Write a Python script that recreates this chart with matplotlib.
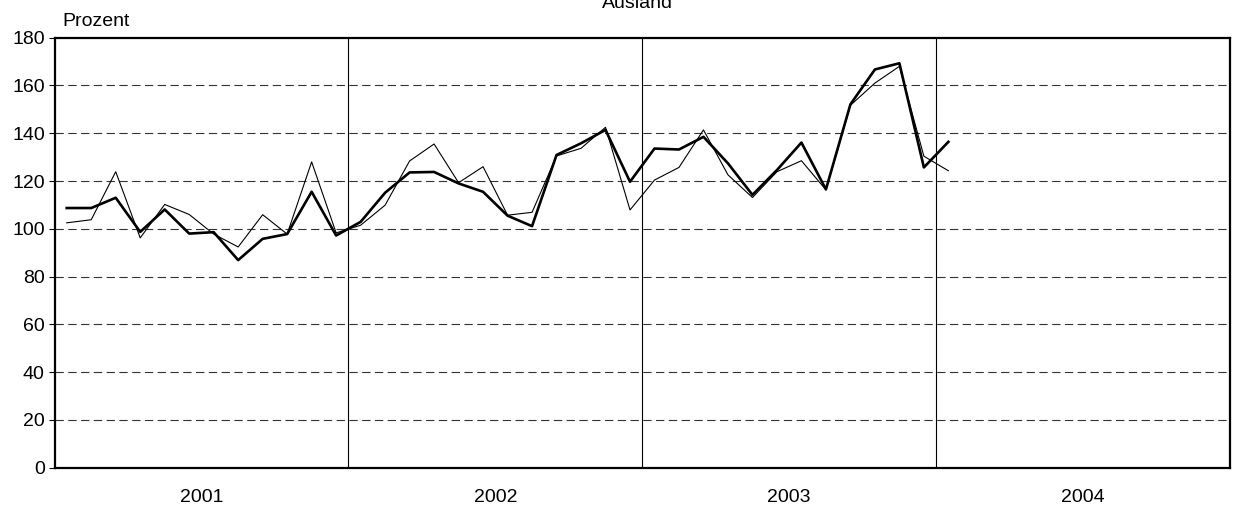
import numpy as np
import matplotlib
matplotlib.use("Agg")
import matplotlib.pyplot as plt

plt.rcParams["font.family"] = ["Liberation Sans", "DejaVu Sans"]

years = ["2001", "2002", "2003", "2004"]

# monthly values, Jan 2001 .. Jan 2004
thick = [108.7, 108.7, 113.0, 98.7, 108.1, 98.0, 98.6, 86.9, 95.8, 97.8, 115.5, 97.2,
         102.9, 115.1, 123.6, 123.8, 119.0, 115.5, 105.5, 101.1, 130.9, 135.8, 141.4, 119.7,
         133.6, 133.2, 138.5, 127.4, 114.2, 124.6, 136.1, 116.5, 152.1, 166.7, 169.3, 125.7,
         136.4]
thin = [102.5, 103.8, 123.9, 96.2, 110.2, 106.0, 97.8, 92.4, 105.9, 97.8, 128.0, 98.3,
        101.5, 109.9, 128.4, 135.5, 119.3, 126.0, 105.7, 106.9, 130.5, 133.7, 142.5, 107.9,
        120.4, 125.7, 141.4, 122.6, 113.1, 123.9, 128.5, 116.3, 151.7, 161.0, 168.0, 130.4,
        124.3]

fs = 14

fig = plt.figure(figsize=(12.34, 5.05), dpi=100)
ax = fig.add_axes([54.5 / 1234, 1 - 467.7 / 505, (1230 - 54.5) / 1234, (467.7 - 37.7) / 505])

n_months = 12 * len(years)
x = np.arange(len(thick))

# horizontal dashed grid
for v in range(20, 180, 20):
    ax.axhline(v, color="#333333", lw=0.8, dashes=(7.5, 4), zorder=1)
# year separators
for k in range(1, len(years)):
    ax.axvline(12 * k - 0.5, color="black", lw=0.8, zorder=1)

ax.plot(x, thin, color="black", lw=0.8, zorder=3)
ax.plot(x, thick, color="black", lw=1.9, zorder=4)

ax.set_xlim(-0.5, n_months - 0.5)
ax.set_ylim(0, 180)
ax.set_yticks(range(0, 181, 20))
ax.set_xticks([12 * k + 5.5 for k in range(len(years))])
ax.set_xticklabels(years)
ax.tick_params(axis="x", length=0, pad=15, labelsize=fs)
ax.tick_params(axis="y", length=4, width=0.8, pad=3, labelsize=fs, direction="out")

for side in ["left", "bottom", "top", "right"]:
    ax.spines[side].set_linewidth(1.6)

fig.text(62 / 1234, 1 - 26 / 505, "Prozent", fontsize=fs, va="baseline", ha="left")
fig.text(637 / 1234, 1 - 8.3 / 505, "Ausland", fontsize=fs, va="baseline", ha="center")

fig.savefig("out.png", dpi=100)
